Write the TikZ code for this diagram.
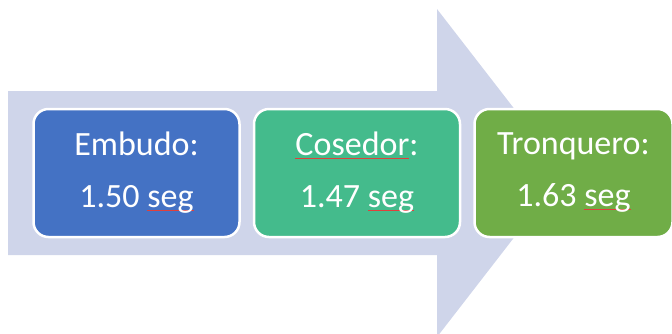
\documentclass[tikz,border=0pt]{standalone}
\usepackage{fontspec}
\setmainfont{Carlito}
\usetikzlibrary{positioning}

\definecolor{arrowfill}{HTML}{CFD5EA}
\definecolor{stageblue}{HTML}{4472C4}
\definecolor{stageteal}{HTML}{44BB8C}
\definecolor{stagegreen}{HTML}{70AD47}
\definecolor{spellred}{HTML}{E0403C}

% thin red underline under flagged words
\newcommand{\spell}[1]{\setbox0\hbox{#1}\rlap{\textcolor{spellred}{\rule[-3.5pt]{\wd0}{1.1pt}}}\box0}

\begin{document}
\begin{tikzpicture}[x=1pt, y=-1pt,
  stage/.style={draw=white, line width=2.5pt, rounded corners=15pt,
                minimum width=206pt, minimum height=128pt, align=center,
                text=white, font=\fontsize{34}{52}\selectfont},
  flow/.style={fill=arrowfill}
]
  \useasboundingbox (0,0) rectangle (672,333);

  % big arrow behind the stages
  \fill[flow] (8,91) -- (437,91) -- (437,9) -- (564,173) -- (437,337)
              -- (437,255) -- (8,255) -- cycle;

  % stages
  \node[stage, fill=stageblue] (embudo) at (136.5,173) {Embudo:\\1.50 \spell{seg}};
  \node[stage, fill=stageteal, right=12pt of embudo] (cosedor) {\spell{Cosedor}:\\1.47 \spell{seg}};
  \node[stage, fill=stagegreen, minimum width=198pt, right=12pt of cosedor] (tronquero) {Tronquero:\\1.63 \spell{seg}};
\end{tikzpicture}
\end{document}
